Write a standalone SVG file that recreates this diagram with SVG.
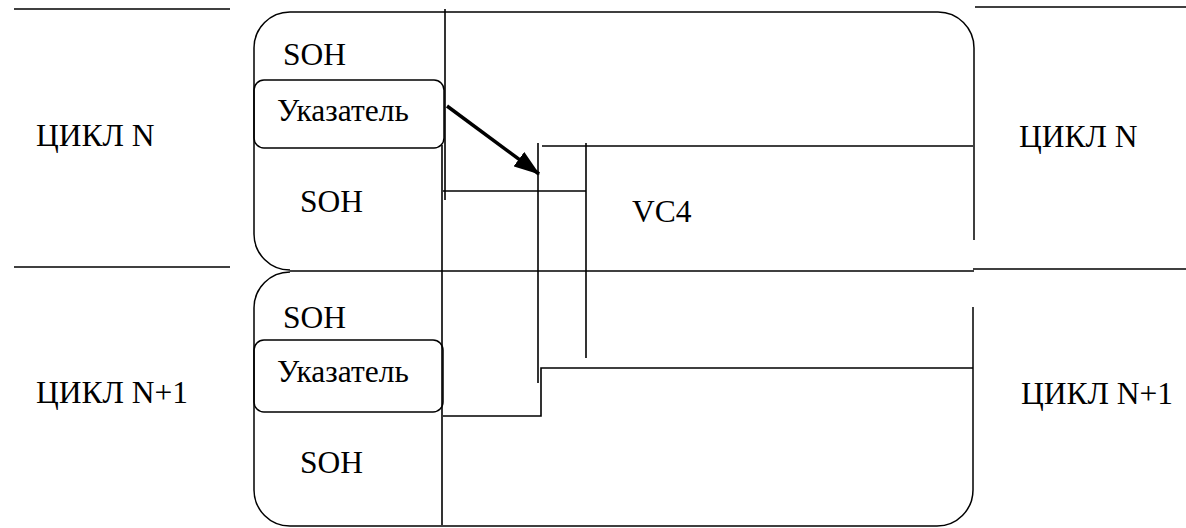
<svg xmlns="http://www.w3.org/2000/svg" width="1186" height="528" viewBox="0 0 1186 528">
<style>
.ln{stroke:#000;stroke-width:1.6;fill:none}
.bx{stroke:#000;stroke-width:1.5;fill:none}
.t{font-family:'Liberation Serif','Times New Roman',serif;font-size:31.5px;fill:#000}
</style>
<defs>
<marker id="ah" markerWidth="26" markerHeight="18" refX="25" refY="9" orient="auto" markerUnits="userSpaceOnUse">
<path d="M0,0 L26,9 L0,18 z" fill="#000"/>
</marker>
</defs>
<rect width="1186" height="528" fill="#fff"/>
<g id="frame-n">
<path class="bx" d="M974,240 L974,48 A36,36 0 0 0 938,12 L290,12 A36,36 0 0 0 254,48 L254,234 A36,36 0 0 0 290,270"/>
<line class="ln" x1="290" y1="271" x2="974" y2="271"/>
<text class="t" x="283" y="65">SOH</text>
<text class="t" x="300" y="212">SOH</text>
</g>
<g id="pointer-n">
<rect class="bx" x="254" y="80" width="190" height="68" rx="10"/>
<text class="t" x="277" y="121">Указатель</text>
</g>
<g id="frame-n1">
<path class="bx" d="M290,272 A36,36 0 0 0 254,308 L254,490 A36,36 0 0 0 290,526 L937,526 A36,36 0 0 0 973,490 L973,307"/>
<text class="t" x="283" y="328">SOH</text>
<text class="t" x="300" y="473">SOH</text>
</g>
<g id="pointer-n1">
<rect class="bx" x="254" y="340" width="189" height="72" rx="10"/>
<text class="t" x="277" y="382">Указатель</text>
</g>
<g id="vc4">
<text class="t" x="632" y="222">VC4</text>
</g>
<g id="labels">
<line class="ln" x1="14" y1="9" x2="230" y2="9"/>
<line class="ln" x1="14" y1="267" x2="230" y2="267"/>
<line class="ln" x1="975" y1="7" x2="1186" y2="7"/>
<line class="ln" x1="973" y1="269" x2="1186" y2="269"/>
<text class="t" x="36" y="146">ЦИКЛ N</text>
<text class="t" x="36" y="403">ЦИКЛ N+1</text>
<text class="t" x="1019" y="147">ЦИКЛ N</text>
<text class="t" x="1021" y="404">ЦИКЛ N+1</text>
</g>
<g id="connectors">
<line class="ln" x1="445" y1="9" x2="445" y2="200"/>
<line class="ln" x1="442" y1="145" x2="442" y2="525"/>
<line class="ln" x1="443" y1="191" x2="586" y2="191"/>
<line class="ln" x1="538" y1="143" x2="538" y2="383"/>
<polyline class="ln" points="443,416 541,416 541,368 973,368"/>
<line class="ln" x1="542" y1="146" x2="973" y2="146"/>
<line class="ln" x1="586" y1="143" x2="586" y2="358"/>
<line x1="447" y1="106" x2="539" y2="174" stroke="#000" stroke-width="3.5" marker-end="url(#ah)"/>
</g>
</svg>
